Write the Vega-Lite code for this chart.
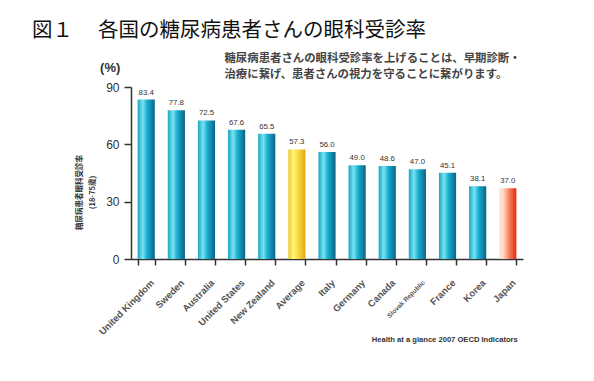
{
  "$schema": "https://vega.github.io/schema/vega-lite/v6.json",
  "autosize": {"type": "none"},
  "width": 392,
  "height": 172,
  "padding": {"left": 131, "top": 87, "right": 71, "bottom": 122},
  "background": "white",
  "config": {"view": {"stroke": null}},
  "title": {
    "text": "図１　 各国の糖尿病患者さんの眼科受診率",
    "anchor": "start",
    "frame": "group",
    "dx": -99,
    "offset": 11,
    "font": "Noto Sans CJK JP",
    "fontSize": 20.5,
    "fontWeight": "normal",
    "color": "#111"
  },
  "data": {
    "values": [
      {"country": "United Kingdom", "rate": 83.4, "group": "country"},
      {"country": "Sweden", "rate": 77.8, "group": "country"},
      {"country": "Australia", "rate": 72.5, "group": "country"},
      {"country": "United States", "rate": 67.6, "group": "country"},
      {"country": "New Zealand", "rate": 65.5, "group": "country"},
      {"country": "Average", "rate": 57.3, "group": "average"},
      {"country": "Italy", "rate": 56.0, "group": "country"},
      {"country": "Germany", "rate": 49.0, "group": "country"},
      {"country": "Canada", "rate": 48.6, "group": "country"},
      {"country": "Slovak Republic", "rate": 47.0, "group": "country"},
      {"country": "France", "rate": 45.1, "group": "country"},
      {"country": "Korea", "rate": 38.1, "group": "country"},
      {"country": "Japan", "rate": 37.0, "group": "japan"}
    ]
  },
  "encoding": {
    "x": {
      "field": "country",
      "type": "nominal",
      "scale": {
        "domain": ["United Kingdom", "Sweden", "Australia", "United States", "New Zealand", "Average", "Italy", "Germany", "Canada", "Slovak Republic", "France", "Korea", "Japan"],
        "paddingInner": 0.43,
        "paddingOuter": 0.22
      },
      "axis": {
        "title": null,
        "labelAngle": -45,
        "labelAlign": "right",
        "labelBaseline": "middle",
        "labelFont": "Liberation Sans",
        "labelFontWeight": "bold",
        "labelFontSize": {"condition": {"test": "datum.value === 'Slovak Republic'", "value": 6.5}, "value": 9.5},
        "labelColor": "#555",
        "labelPadding": 16,
        "labelOffset": 6,
        "tickBand": "extent",
        "tickSize": 6,
        "tickColor": "#333",
        "tickWidth": 1.5,
        "domainColor": "#333",
        "domainWidth": 1.5
      }
    }
  },
  "layer": [
    {
      "transform": [{"filter": "datum.group === 'country'"}],
      "mark": {
        "type": "bar",
        "color": {
          "gradient": "linear", "x1": 0, "x2": 1, "y1": 0, "y2": 0,
          "stops": [
            {"offset": 0, "color": "#1aa6c0"},
            {"offset": 0.3, "color": "#78e4f2"},
            {"offset": 0.55, "color": "#1aaed0"},
            {"offset": 1, "color": "#0a6488"}
          ]
        }
      },
      "encoding": {
        "y": {
          "field": "rate", "type": "quantitative",
          "scale": {"domain": [0, 90]},
          "axis": {
            "values": [0, 30, 60, 90],
            "grid": false,
            "title": ["糖尿病患者眼科受診率", "(18-75歳)"],
            "titleFont": "Noto Sans CJK JP",
            "titleFontSize": 7.5,
            "titleFontWeight": "bold",
            "titleColor": "#333",
            "titleLineHeight": 13,
            "titleX": -48,
            "titleY": 105,
            "labelFont": "Liberation Sans",
            "labelFontSize": 12,
            "labelColor": "#333",
            "labelPadding": 5,
            "tickSize": 7,
            "tickColor": "#333",
            "tickWidth": 1.5,
            "domainColor": "#333",
            "domainWidth": 1.5
          }
        }
      }
    },
    {
      "transform": [{"filter": "datum.group === 'average'"}],
      "mark": {
        "type": "bar",
        "color": {
          "gradient": "linear", "x1": 0, "x2": 1, "y1": 0, "y2": 0,
          "stops": [
            {"offset": 0, "color": "#f0c828"},
            {"offset": 0.3, "color": "#fff680"},
            {"offset": 0.6, "color": "#f6d83a"},
            {"offset": 1, "color": "#e0a818"}
          ]
        }
      },
      "encoding": {"y": {"field": "rate", "type": "quantitative"}}
    },
    {
      "transform": [{"filter": "datum.group === 'japan'"}],
      "mark": {
        "type": "bar",
        "color": {
          "gradient": "linear", "x1": 0, "x2": 1, "y1": 0, "y2": 0,
          "stops": [
            {"offset": 0, "color": "#fde6d6"},
            {"offset": 0.25, "color": "#fcd8c0"},
            {"offset": 0.6, "color": "#f67a55"},
            {"offset": 1, "color": "#e42a12"}
          ]
        }
      },
      "encoding": {"y": {"field": "rate", "type": "quantitative"}}
    },
    {
      "mark": {"type": "text", "dy": -7, "font": "Liberation Sans", "fontSize": 7.8, "color": "#333"},
      "encoding": {
        "y": {"field": "rate", "type": "quantitative"},
        "text": {"field": "rate", "type": "quantitative", "format": ".1f"}
      }
    },
    {
      "data": {"values": [{"label": "(%)", "pos": "United Kingdom", "v": 99.9}]},
      "mark": {"type": "text", "dx": -36, "baseline": "middle", "font": "Liberation Sans", "fontSize": 13, "fontWeight": "bold", "color": "#333"},
      "encoding": {
        "x": {"field": "pos", "type": "nominal"},
        "y": {"field": "v", "type": "quantitative"},
        "text": {"field": "label"}
      }
    },
    {
      "data": {"values": [
        {"label": "糖尿病患者さんの眼科受診率を上げることは、早期診断・", "pos": "Australia", "v": 104.7},
        {"label": "治療に繋げ、患者さんの視力を守ることに繋がります。", "pos": "Australia", "v": 96.3}
      ]},
      "mark": {"type": "text", "align": "left", "baseline": "middle", "dx": 18, "font": "Noto Sans CJK JP", "fontSize": 11.4, "fontWeight": "bold", "color": "#444"},
      "encoding": {
        "x": {"field": "pos", "type": "nominal"},
        "y": {"field": "v", "type": "quantitative"},
        "text": {"field": "label"}
      }
    },
    {
      "data": {"values": [{"label": "Health at a glance 2007 OECD Indicators", "pos": "Japan", "v": -42.4}]},
      "mark": {"type": "text", "align": "right", "baseline": "middle", "dx": 10, "font": "Liberation Sans", "fontSize": 7.6, "fontWeight": "bold", "color": "#333"},
      "encoding": {
        "x": {"field": "pos", "type": "nominal"},
        "y": {"field": "v", "type": "quantitative"},
        "text": {"field": "label"}
      }
    }
  ]
}
